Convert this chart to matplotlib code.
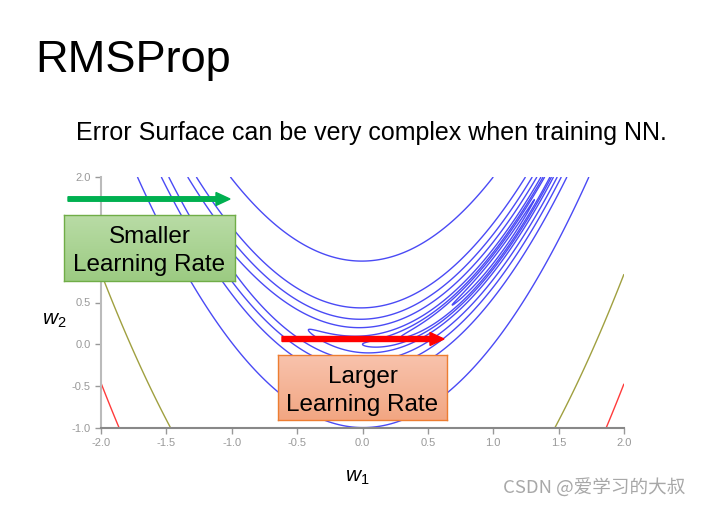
import numpy as np
import matplotlib
matplotlib.use("Agg")
import matplotlib.pyplot as plt
from matplotlib.patches import FancyArrow
from matplotlib.colors import LinearSegmentedColormap

plt.rcParams['font.family'] = ['Liberation Sans', 'DejaVu Sans']
plt.rcParams['mathtext.fontset'] = 'custom'
plt.rcParams['mathtext.it'] = 'Liberation Sans:italic'
plt.rcParams['mathtext.rm'] = 'Liberation Sans'

# ---- data ----
x_range = [-2.0, 2.0]
y_range = [-1.0, 2.0]
x_ticks = [-2.0, -1.5, -1.0, -0.5, 0.0, 0.5, 1.0, 1.5, 2.0]
y_ticks = [-1.0, -0.5, 0.0, 0.5, 1.0, 1.5, 2.0]
y_hidden_labels = [1.0, 1.5]  # covered by the green box in the reference
levels = [0.1, 0.5, 1, 2, 5, 10, 20, 100, 1000, 2000]
level_colors = ['#4a4af5'] * 8 + ['#a0a040', '#ff3b3b']

W, H = 702, 505
fig = plt.figure(figsize=(W / 100, H / 100), dpi=100)

def fx(px):
    return px / W

def fy(py):
    return 1 - py / H

ax = fig.add_axes([fx(101), fy(428), fx(624) - fx(101), fy(177) - fy(428)])
xs = np.linspace(x_range[0], x_range[1], 800)
ys = np.linspace(y_range[0], y_range[1], 800)
X, Y = np.meshgrid(xs, ys)
Z = (1 - X) ** 2 + 100 * (Y - X ** 2) ** 2
ax.contour(X, Y, Z, levels=levels, colors=level_colors, linewidths=1.0)
ax.set_xlim(*x_range)
ax.set_ylim(*y_range)
ax.set_xticks(x_ticks)
ax.set_yticks(y_ticks)
ax.set_xticklabels([f"{t:.1f}" for t in x_ticks])
ax.set_yticklabels(["" if t in y_hidden_labels else f"{t:.1f}" for t in y_ticks])
for s in ['top', 'right']:
    ax.spines[s].set_visible(False)
ax.spines['left'].set_color('#bbbbbb')
ax.spines['left'].set_linewidth(1.5)
ax.spines['bottom'].set_color('#888888')
ax.spines['bottom'].set_linewidth(1.5)
ax.tick_params(axis='both', colors='#999999', labelsize=8, length=4, width=1, labelcolor='#999999')

# titles
fig.text(fx(35), fy(72), "RMSProp", fontsize=32.5, ha='left', va='baseline', color='black')
fig.text(fx(371), fy(140), "Error Surface can be very complex when training NN.",
         fontsize=18, ha='center', va='baseline', color='black')

# axis labels
fig.text(fx(357), fy(482), r"$w_1$", fontsize=15, ha='center', va='baseline')
fig.text(fx(54), fy(325), r"$w_2$", fontsize=15, ha='center', va='baseline')


def gradient_box(x0, y0, x1, y1, c_top, c_bot, edge):
    bax = fig.add_axes([fx(x0), fy(y1), fx(x1) - fx(x0), fy(y0) - fy(y1)], zorder=5)
    cmap = LinearSegmentedColormap.from_list('g', [c_bot, c_top])
    bax.imshow(np.linspace(0, 1, 100).reshape(-1, 1), aspect='auto', cmap=cmap,
               origin='lower', extent=[0, 1, 0, 1])
    bax.set_xlim(0, 1)
    bax.set_ylim(0, 1)
    bax.set_xticks([])
    bax.set_yticks([])
    for s in bax.spines.values():
        s.set_color(edge)
        s.set_linewidth(1.0)
    return bax

# green arrow
fig.patches.append(FancyArrow(fx(68), fy(199), fx(230) - fx(68), 0, width=4.5 / H,
                              head_width=13 / H, head_length=14 / W, length_includes_head=True,
                              color='#00b050', transform=fig.transFigure, figure=fig))
# green box
gb = gradient_box(64, 215, 235, 281, '#b9dca6', '#9ccb82', '#70ad47')
gb.text(0.5, 0.45, "Smaller\nLearning Rate", fontsize=17.5, ha='center', va='center',
        linespacing=1.35, transform=gb.transAxes)

# red arrow
fig.patches.append(FancyArrow(fx(282), fy(339), fx(444) - fx(282), 0, width=5 / H,
                              head_width=13 / H, head_length=14 / W, length_includes_head=True,
                              color='#ff0000', transform=fig.transFigure, figure=fig))
# orange box
ob = gradient_box(278, 355, 447, 420, '#f8c3ad', '#f2a682', '#ed7d31')
ob.text(0.5, 0.45, "Larger\nLearning Rate", fontsize=17.5, ha='center', va='center',
        linespacing=1.35, transform=ob.transAxes)

# watermark
fig.text(fx(594), fy(488), "CSDN @爱学习的大叔", fontsize=13.4, ha='center', va='center',
         color='#a8a8a8', family=['Noto Sans CJK SC', 'DejaVu Sans'])

fig.savefig("out.png", dpi=100)
